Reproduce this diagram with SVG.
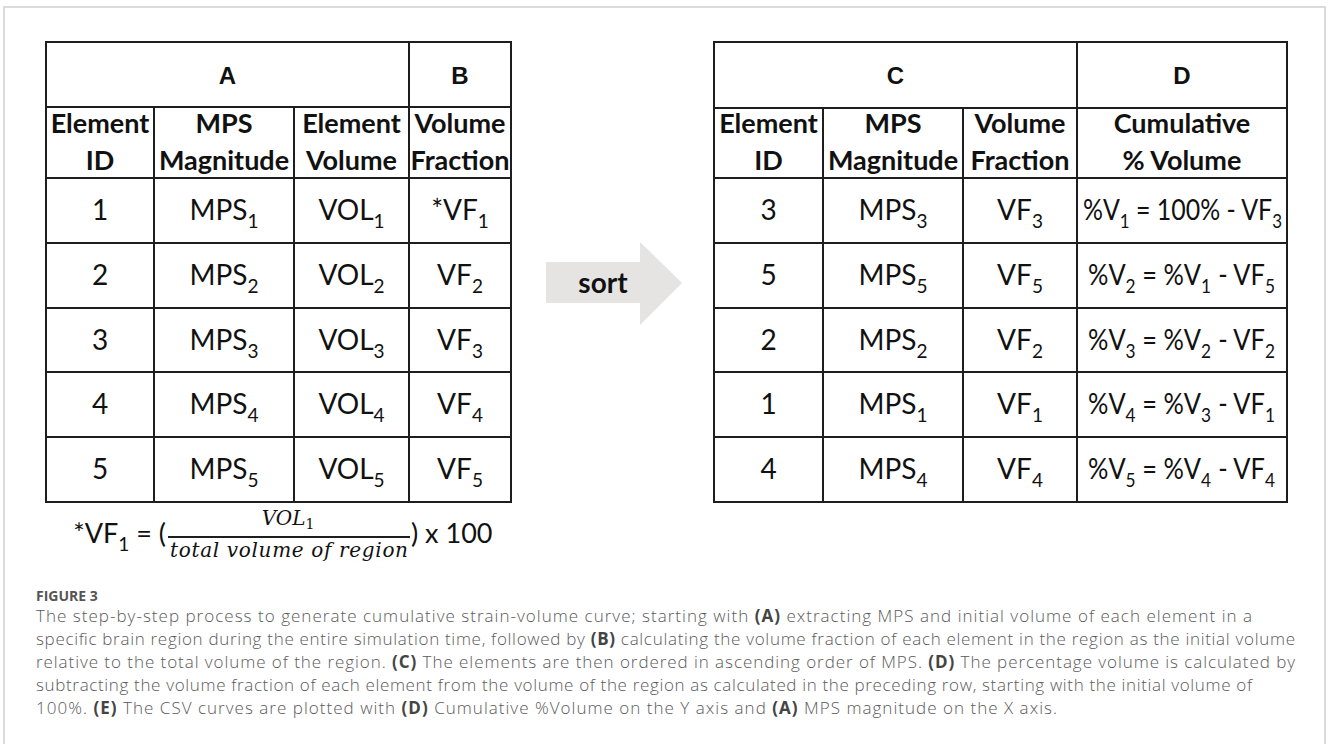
<svg xmlns="http://www.w3.org/2000/svg" width="1328" height="744" viewBox="0 0 1328 744">
<style>
.frame{fill:none;stroke:#cfcfcf;stroke-width:1.5}
.grid{fill:none;stroke:#1e1e1e;stroke-width:2}
.lbl{font-family:"Liberation Sans",Arial,sans-serif;font-weight:700;font-size:24px;fill:#111;text-anchor:middle}
.hdr{font-family:Lato,"Noto Sans",sans-serif;font-weight:700;font-size:27px;fill:#111;text-anchor:middle}
.cell{font-family:Lato,"Noto Sans",sans-serif;font-weight:400;font-size:28px;fill:#111;text-anchor:middle}
.sub{font-size:19px}
.math{font-family:"DejaVu Serif","Liberation Serif",serif;font-style:italic;font-size:20px;fill:#111;text-anchor:middle}
.fig{font-family:"Open Sans","Noto Sans",sans-serif;font-weight:700;font-size:14px;fill:#555}
.cap{font-family:"Open Sans","Noto Sans",sans-serif;font-weight:300;font-size:17px;fill:#5a5a5a}
.cap .b{font-weight:700;fill:#444}
.arrow{fill:#e6e3e3}
.sort{font-family:Lato,"Noto Sans",sans-serif;font-weight:700;font-size:28px;fill:#111;text-anchor:middle}
</style>
<rect class="frame" x="4" y="7" width="1321" height="780"/>

<g id="table-AB">
  <rect class="grid" x="46" y="42" width="465" height="460"/>
  <path class="grid" d="M409 42V502M154 107V502M294 107V502M46 107H511M46 178H511M46 243H511M46 308H511M46 372H511M46 437H511"/>
  <text class="lbl" x="227.5" y="84">A</text>
  <text class="lbl" x="460" y="84">B</text>
  <text class="hdr" x="100" y="133">Element</text>
  <text class="hdr" x="100" y="170">ID</text>
  <text class="hdr" x="224" y="133">MPS</text>
  <text class="hdr" x="224" y="170">Magnitude</text>
  <text class="hdr" x="351.5" y="133">Element</text>
  <text class="hdr" x="351.5" y="170">Volume</text>
  <text class="hdr" x="460" y="133">Volume</text>
  <text class="hdr" x="460" y="170">Fraction</text>

  <text class="cell" x="100" y="220">1</text>
  <text class="cell" x="224" y="220">MPS<tspan class="sub" dy="8">1</tspan></text>
  <text class="cell" x="351.5" y="220">VOL<tspan class="sub" dy="8">1</tspan></text>
  <text class="cell" x="460" y="220">*VF<tspan class="sub" dy="8">1</tspan></text>

  <text class="cell" x="100" y="285">2</text>
  <text class="cell" x="224" y="285">MPS<tspan class="sub" dy="8">2</tspan></text>
  <text class="cell" x="351.5" y="285">VOL<tspan class="sub" dy="8">2</tspan></text>
  <text class="cell" x="460" y="285">VF<tspan class="sub" dy="8">2</tspan></text>

  <text class="cell" x="100" y="350">3</text>
  <text class="cell" x="224" y="350">MPS<tspan class="sub" dy="8">3</tspan></text>
  <text class="cell" x="351.5" y="350">VOL<tspan class="sub" dy="8">3</tspan></text>
  <text class="cell" x="460" y="350">VF<tspan class="sub" dy="8">3</tspan></text>

  <text class="cell" x="100" y="414">4</text>
  <text class="cell" x="224" y="414">MPS<tspan class="sub" dy="8">4</tspan></text>
  <text class="cell" x="351.5" y="414">VOL<tspan class="sub" dy="8">4</tspan></text>
  <text class="cell" x="460" y="414">VF<tspan class="sub" dy="8">4</tspan></text>

  <text class="cell" x="100" y="479">5</text>
  <text class="cell" x="224" y="479">MPS<tspan class="sub" dy="8">5</tspan></text>
  <text class="cell" x="351.5" y="479">VOL<tspan class="sub" dy="8">5</tspan></text>
  <text class="cell" x="460" y="479">VF<tspan class="sub" dy="8">5</tspan></text>
</g>

<g id="formula">
  <text class="cell" x="166" y="543" style="text-anchor:end;font-size:27px">*VF<tspan class="sub" dy="8">1</tspan><tspan dy="-8"> = (</tspan></text>
  <line class="grid" x1="168" y1="537" x2="410" y2="537"/>
  <text class="math" x="288" y="525">VOL<tspan style="font-style:normal;font-size:14px" dy="4">1</tspan></text>
  <text class="math" x="289" y="557" textLength="238" lengthAdjust="spacing">total volume of region</text>
  <text class="cell" x="411" y="543" style="text-anchor:start;font-size:27px">) x 100</text>
</g>

<g id="connectors">
  <g id="sort-arrow">
    <polygon class="arrow" points="546,262 640,262 640,242 682,283 640,325 640,303 546,303"/>
    <text class="sort" x="603" y="293">sort</text>
  </g>
</g>

<g id="table-CD">
  <rect class="grid" x="714" y="42" width="573" height="460"/>
  <path class="grid" d="M1077 42V502M823 108V502M963 108V502M714 108H1287M714 178H1287M714 243H1287M714 308H1287M714 372H1287M714 437H1287"/>
  <text class="lbl" x="895.5" y="84">C</text>
  <text class="lbl" x="1182" y="84">D</text>
  <text class="hdr" x="768.5" y="133">Element</text>
  <text class="hdr" x="768.5" y="170">ID</text>
  <text class="hdr" x="893" y="133">MPS</text>
  <text class="hdr" x="893" y="170">Magnitude</text>
  <text class="hdr" x="1020" y="133">Volume</text>
  <text class="hdr" x="1020" y="170">Fraction</text>
  <text class="hdr" x="1182" y="133">Cumulative</text>
  <text class="hdr" x="1182" y="170">% Volume</text>

  <text class="cell" x="768.5" y="220">3</text>
  <text class="cell" x="893" y="220">MPS<tspan class="sub" dy="8">3</tspan></text>
  <text class="cell" x="1020" y="220">VF<tspan class="sub" dy="8">3</tspan></text>
  <text class="cell" x="1182.5" y="220" textLength="199" lengthAdjust="spacingAndGlyphs">%V<tspan class="sub" dy="8">1</tspan><tspan dy="-8"> = 100% - VF</tspan><tspan class="sub" dy="8">3</tspan></text>

  <text class="cell" x="768.5" y="285">5</text>
  <text class="cell" x="893" y="285">MPS<tspan class="sub" dy="8">5</tspan></text>
  <text class="cell" x="1020" y="285">VF<tspan class="sub" dy="8">5</tspan></text>
  <text class="cell" x="1181.5" y="285" textLength="187" lengthAdjust="spacingAndGlyphs">%V<tspan class="sub" dy="8">2</tspan><tspan dy="-8"> = %V</tspan><tspan class="sub" dy="8">1</tspan><tspan dy="-8" dx="8">- VF</tspan><tspan class="sub" dy="8">5</tspan></text>

  <text class="cell" x="768.5" y="350">2</text>
  <text class="cell" x="893" y="350">MPS<tspan class="sub" dy="8">2</tspan></text>
  <text class="cell" x="1020" y="350">VF<tspan class="sub" dy="8">2</tspan></text>
  <text class="cell" x="1181.5" y="350" textLength="187" lengthAdjust="spacingAndGlyphs">%V<tspan class="sub" dy="8">3</tspan><tspan dy="-8"> = %V</tspan><tspan class="sub" dy="8">2</tspan><tspan dy="-8" dx="8">- VF</tspan><tspan class="sub" dy="8">2</tspan></text>

  <text class="cell" x="768.5" y="414">1</text>
  <text class="cell" x="893" y="414">MPS<tspan class="sub" dy="8">1</tspan></text>
  <text class="cell" x="1020" y="414">VF<tspan class="sub" dy="8">1</tspan></text>
  <text class="cell" x="1181.5" y="414" textLength="187" lengthAdjust="spacingAndGlyphs">%V<tspan class="sub" dy="8">4</tspan><tspan dy="-8"> = %V</tspan><tspan class="sub" dy="8">3</tspan><tspan dy="-8" dx="8">- VF</tspan><tspan class="sub" dy="8">1</tspan></text>

  <text class="cell" x="768.5" y="479">4</text>
  <text class="cell" x="893" y="479">MPS<tspan class="sub" dy="8">4</tspan></text>
  <text class="cell" x="1020" y="479">VF<tspan class="sub" dy="8">4</tspan></text>
  <text class="cell" x="1181.5" y="479" textLength="187" lengthAdjust="spacingAndGlyphs">%V<tspan class="sub" dy="8">5</tspan><tspan dy="-8"> = %V</tspan><tspan class="sub" dy="8">4</tspan><tspan dy="-8" dx="8">- VF</tspan><tspan class="sub" dy="8">4</tspan></text>
</g>

<g id="caption">
  <text class="fig" x="36" y="601">FIGURE 3</text>
  <text class="cap" x="36" y="622" textLength="1216" lengthAdjust="spacing">The step-by-step process to generate cumulative strain-volume curve; starting with <tspan class="b">(A)</tspan> extracting MPS and initial volume of each element in a</text>
  <text class="cap" x="36" y="645" textLength="1259" lengthAdjust="spacing">specific brain region during the entire simulation time, followed by <tspan class="b">(B)</tspan> calculating the volume fraction of each element in the region as the initial volume</text>
  <text class="cap" x="36" y="668" textLength="1259" lengthAdjust="spacing">relative to the total volume of the region. <tspan class="b">(C)</tspan> The elements are then ordered in ascending order of MPS. <tspan class="b">(D)</tspan> The percentage volume is calculated by</text>
  <text class="cap" x="36" y="691" textLength="1216" lengthAdjust="spacing">subtracting the volume fraction of each element from the volume of the region as calculated in the preceding row, starting with the initial volume of</text>
  <text class="cap" x="36" y="714" textLength="1021" lengthAdjust="spacing">100%. <tspan class="b">(E)</tspan> The CSV curves are plotted with <tspan class="b">(D)</tspan> Cumulative %Volume on the Y axis and <tspan class="b">(A)</tspan> MPS magnitude on the X axis.</text>
</g>
</svg>
